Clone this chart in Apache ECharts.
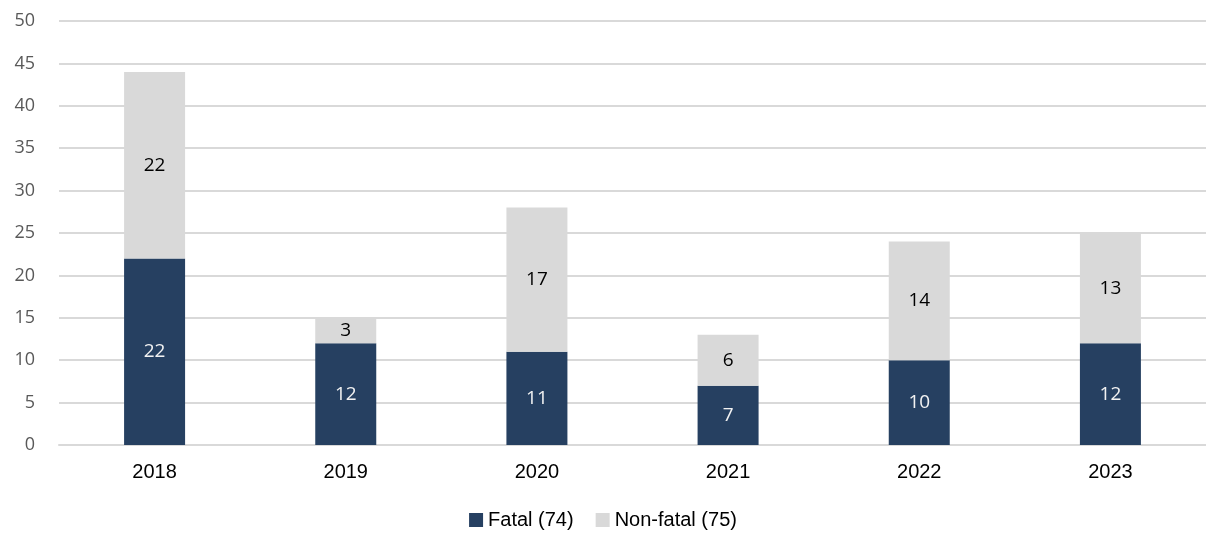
<!DOCTYPE html>
<html>
<head>
<meta charset="utf-8">
<script src="https://cdn.jsdelivr.net/npm/echarts@6/dist/echarts.min.js"></script>
<style>
  html, body { margin: 0; padding: 0; background: #fff; }
  #main { width: 1206px; height: 537px; }
</style>
</head>
<body>
<div id="main"></div>
<script>
var years = ['2018', '2019', '2020', '2021', '2022', '2023'];
var fatal = [22, 12, 11, 7, 10, 12];
var nonFatal = [22, 3, 17, 6, 14, 13];
var legendNames = ['Fatal (74)', 'Non-fatal (75)'];

var myChart = echarts.init(document.getElementById('main'));
var option = {
    animation: false,
    grid: {
        left: 59,
        width: 1156,
        top: 21,
        bottom: 92,
        containLabel: false
    },
    legend: {
        bottom: 2,
        left: 'center',
        itemWidth: 14,
        itemHeight: 14,
        itemGap: 22,
        icon: 'rect',
        textStyle: { fontFamily: 'Liberation Sans', fontSize: 20, color: '#000' },
        data: legendNames
    },
    xAxis: {
        type: 'category',
        data: years,
        axisLine: { show: true, lineStyle: { color: '#d9d9d9', width: 2 } },
        axisTick: { show: false },
        axisLabel: { fontFamily: 'Liberation Sans', fontSize: 20, color: '#000', margin: 17 }
    },
    yAxis: {
        type: 'value',
        min: 0,
        max: 50,
        interval: 5,
        axisLine: { show: false },
        axisTick: { show: false },
        splitLine: { lineStyle: { color: '#d9d9d9', width: 2 } },
        axisLabel: { fontFamily: 'Open Sans', fontSize: 18, color: '#595959', margin: 24 }
    },
    series: [
        {
            name: legendNames[0],
            type: 'bar',
            stack: 'total',
            barWidth: 61,
            data: fatal,
            itemStyle: { color: '#264061' },
            label: { show: true, position: 'inside', color: '#f2f2f2', fontFamily: 'Open Sans', fontSize: 19 }
        },
        {
            name: legendNames[1],
            type: 'bar',
            stack: 'total',
            barWidth: 61,
            data: nonFatal,
            itemStyle: { color: '#d9d9d9' },
            label: { show: true, position: 'inside', color: '#000', fontFamily: 'Open Sans', fontSize: 19 }
        }
    ]
};
myChart.setOption(option);
</script>
</body>
</html>
